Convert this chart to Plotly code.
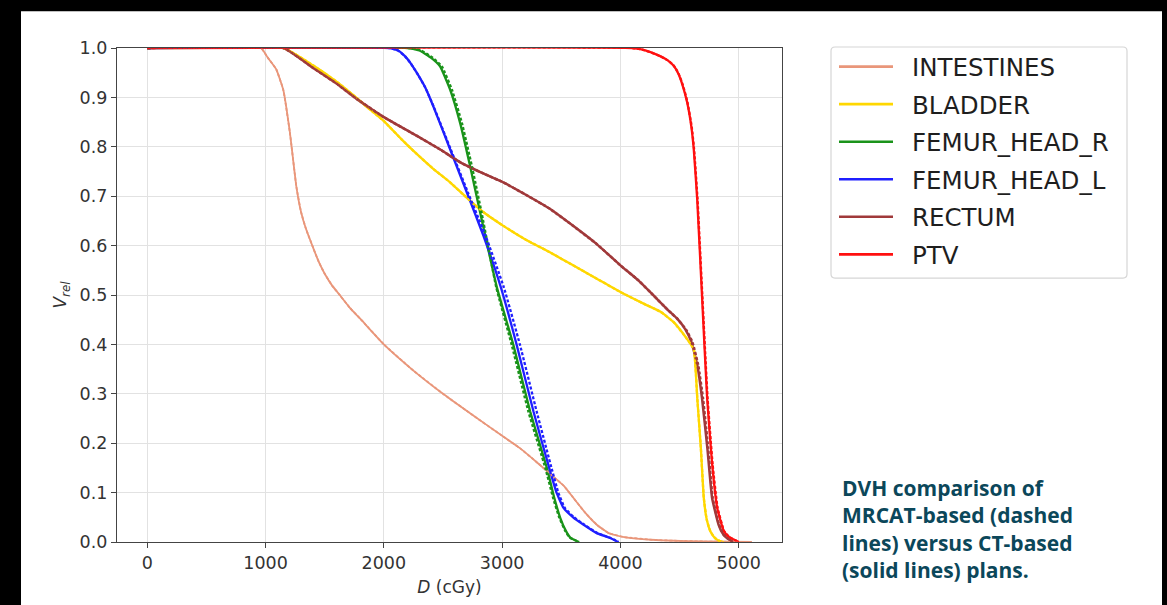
import plotly.graph_objects as go

# ---------------- data ----------------
organs = ["INTESTINES", "BLADDER", "FEMUR_HEAD_R", "FEMUR_HEAD_L", "RECTUM", "PTV"]
colors = ["#E9967A", "#FFD700", "#1a931a", "#1f1fff", "#A0393A", "#FF1010"]
widths = [1.8, 2.3, 2.3, 2.3, 2.5, 2.3]

intestines_d = [0, 960, 1020, 1090, 1150, 1205, 1260, 1300, 1340, 1400, 1450, 1500, 1560, 1630, 1713, 1800,
                2000, 2250, 2500, 2750, 3000, 3150, 3300, 3420, 3520, 3600, 3700, 3800, 3900, 4030, 4300,
                4700, 5110]
intestines_v = [1, 1, 0.98, 0.957, 0.915, 0.83, 0.72, 0.668, 0.635, 0.597, 0.567, 0.543, 0.52, 0.499, 0.474,
                0.452, 0.4, 0.347, 0.3, 0.257, 0.215, 0.19, 0.16, 0.135, 0.114, 0.09, 0.06, 0.035, 0.018,
                0.01, 0.004, 0.001, 0]

bladder_d = [0, 1150, 1400, 1600, 1770, 1850, 2000, 2150, 2280, 2420, 2560, 2700, 2840, 3010, 3200, 3400,
             3600, 3800, 4000, 4200, 4340, 4450, 4560, 4620, 4650, 4680, 4705, 4730, 4760, 4800, 4840, 4870]
bladder_v = [1, 1, 0.965, 0.932, 0.899, 0.882, 0.852, 0.815, 0.785, 0.755, 0.728, 0.697, 0.668, 0.64, 0.612,
             0.587, 0.56, 0.533, 0.506, 0.482, 0.466, 0.445, 0.412, 0.39, 0.29, 0.19, 0.089, 0.045, 0.022,
             0.008, 0.002, 0]

femur_r_d = [0, 2200, 2300, 2400, 2475, 2560, 2644, 2729, 2814, 2955, 3096, 3237, 3378, 3440, 3491, 3540,
             3576, 3650]
femur_r_v = [1, 1, 0.995, 0.98, 0.963, 0.916, 0.849, 0.761, 0.667, 0.516, 0.398, 0.264, 0.15, 0.09, 0.049,
             0.022, 0.009, 0]
femur_r_mr_d = [0, 2215, 2315, 2415, 2490, 2575, 2659, 2744, 2826, 2950, 3082, 3222, 3365, 3430, 3484, 3535,
                3572, 3650]

femur_l_d = [0, 2050, 2120, 2180, 2230, 2278, 2350, 2418, 2560, 2701, 2842, 2990, 3124, 3265, 3406, 3460,
             3519, 3600, 3689, 3800, 3914, 3980]
femur_l_v = [1, 1, 0.995, 0.983, 0.968, 0.95, 0.92, 0.882, 0.795, 0.708, 0.62, 0.515, 0.398, 0.264, 0.143,
             0.1, 0.069, 0.05, 0.035, 0.018, 0.008, 0]
femur_l_mr_d = [0, 2050, 2120, 2180, 2230, 2278, 2350, 2420, 2565, 2710, 2860, 3015, 3152, 3292, 3425, 3475,
                3530, 3608, 3695, 3805, 3918, 3985]

rectum_d = [0, 1150, 1400, 1600, 1770, 2000, 2280, 2480, 2650, 2850, 3010, 3200, 3400, 3600, 3800, 4000,
            4150, 4280, 4400, 4480, 4550, 4600, 4650, 4690, 4735, 4775, 4830, 4870, 4900, 4950]
rectum_v = [1, 1, 0.96, 0.928, 0.897, 0.86, 0.822, 0.794, 0.768, 0.745, 0.728, 0.703, 0.675, 0.64, 0.603,
            0.56, 0.53, 0.499, 0.47, 0.452, 0.43, 0.405, 0.358, 0.291, 0.19, 0.089, 0.035, 0.015, 0.008, 0]
rectum_mr_d = [0, 1150, 1400, 1600, 1770, 2000, 2280, 2480, 2650, 2850, 3010, 3200, 3400, 3600, 3800, 4000,
               4150, 4280, 4400, 4480, 4555, 4608, 4658, 4698, 4742, 4780, 4834, 4872, 4902, 4950]

ptv_d = [0, 4100, 4180, 4260, 4340, 4400, 4450, 4490, 4525, 4564, 4600, 4620, 4649, 4691, 4733, 4776, 4818,
         4874, 4920, 4959, 5000]
ptv_v = [1, 1, 0.997, 0.991, 0.983, 0.975, 0.964, 0.948, 0.925, 0.89, 0.84, 0.795, 0.694, 0.492, 0.291, 0.156,
         0.069, 0.022, 0.01, 0.005, 0]
ptv_mr_d = [0, 4100, 4180, 4260, 4340, 4400, 4452, 4492, 4528, 4567, 4603, 4623, 4652, 4694, 4737, 4780, 4822,
            4877, 4922, 4960, 5000]

x_ticks = [0, 1000, 2000, 3000, 4000, 5000]
y_ticks = [0.0, 0.1, 0.2, 0.3, 0.4, 0.5, 0.6, 0.7, 0.8, 0.9, 1.0]

caption_lines = ["DVH comparison of", "MRCAT-based (dashed", "lines) versus CT-based", "(solid lines) plans."]

ct_curves = [(intestines_d, intestines_v), (bladder_d, bladder_v), (femur_r_d, femur_r_v),
             (femur_l_d, femur_l_v), (rectum_d, rectum_v), (ptv_d, ptv_v)]
mr_curves = [(intestines_d, intestines_v), (bladder_d, bladder_v), (femur_r_mr_d, femur_r_v),
             (femur_l_mr_d, femur_l_v), (rectum_mr_d, rectum_v), (ptv_mr_d, ptv_v)]

# ---------------- figure ----------------
fig = go.Figure()
for i, name in enumerate(organs):
    d, v = ct_curves[i]
    fig.add_trace(go.Scatter(x=d, y=v, mode="lines", name=name, showlegend=False,
                             line=dict(color=colors[i], width=widths[i], shape="spline", smoothing=0.4)))
for i, name in enumerate(organs):
    d, v = mr_curves[i]
    fig.add_trace(go.Scatter(x=d, y=v, mode="lines", name=name + " (MRCAT)", showlegend=False,
                             line=dict(color=colors[i], width=widths[i], dash="3px,2px",
                                       shape="spline", smoothing=0.4)))

W, H = 1167, 605
ml, mr, mt, mb = 117, 385, 48, 61
pw, ph = W - ml - mr, H - mt - mb


def px_x(p):
    return (p - ml) / pw


def px_y(p):
    return (H - mb - p) / ph


# white page inside the black frame
fig.add_shape(type="rect", xref="paper", yref="paper", layer="below",
              x0=px_x(21), x1=px_x(1162), y0=px_y(640), y1=px_y(11),
              fillcolor="white", line=dict(width=0))

# legend box (rounded)
lx0, lx1, ly0, ly1, r = 831, 1127, 47, 279, 4
path = (f"M {px_x(lx0 + r)} {px_y(ly0)} L {px_x(lx1 - r)} {px_y(ly0)} "
        f"Q {px_x(lx1)} {px_y(ly0)} {px_x(lx1)} {px_y(ly0 + r)} "
        f"L {px_x(lx1)} {px_y(ly1 - r)} Q {px_x(lx1)} {px_y(ly1)} {px_x(lx1 - r)} {px_y(ly1)} "
        f"L {px_x(lx0 + r)} {px_y(ly1)} Q {px_x(lx0)} {px_y(ly1)} {px_x(lx0)} {px_y(ly1 - r)} "
        f"L {px_x(lx0)} {px_y(ly0 + r)} Q {px_x(lx0)} {px_y(ly0)} {px_x(lx0 + r)} {px_y(ly0)} Z")
fig.add_shape(type="path", xref="paper", yref="paper", path=path, fillcolor="white",
              line=dict(color="#d6d6d6", width=1.2))
row0, pitch = 66.7, 37.7
for i, name in enumerate(organs):
    yc = row0 + i * pitch
    fig.add_shape(type="line", xref="paper", yref="paper", x0=px_x(839), x1=px_x(893),
                  y0=px_y(yc), y1=px_y(yc), line=dict(color=colors[i], width=2.6))
    fig.add_annotation(xref="paper", yref="paper", x=px_x(910), y=px_y(yc + 1), xanchor="left",
                       yanchor="middle", showarrow=False, text=name,
                       font=dict(family="DejaVu Sans", size=24.5, color="#1e1e1e"))

# caption (one text block)
fig.add_annotation(xref="paper", yref="paper", x=px_x(840), y=px_y(474), xanchor="left",
                   yanchor="top", align="left", showarrow=False,
                   text="<b>" + "<br>".join(caption_lines) + "</b>",
                   font=dict(family="Open Sans", size=21, color="#0b475a"))

axis_common = dict(showline=True, linecolor="#444", linewidth=1.3, mirror=True, ticks="outside",
                   ticklen=5, tickwidth=1.3, tickcolor="#444", showgrid=True, gridcolor="#e2e2e2",
                   gridwidth=1.2, zeroline=False,
                   tickfont=dict(family="DejaVu Sans", size=17.5, color="#333"))

fig.update_xaxes(range=[-256, 5366], tickvals=x_ticks, ticktext=[str(t) for t in x_ticks],
                 title=dict(text="<i>D</i> (cGy)", font=dict(family="DejaVu Sans", size=17, color="#333"),
                            standoff=8), **axis_common)
fig.update_yaxes(range=[0, 1], tickvals=y_ticks, ticktext=[f"{t:.1f}" for t in y_ticks],
                 title=dict(text="<i>V<sub>rel</sub></i>", font=dict(family="DejaVu Sans", size=17, color="#333"),
                            standoff=8), **axis_common)

fig.update_layout(
    width=W, height=H,
    margin=dict(l=ml, r=mr, t=mt, b=mb),
    paper_bgcolor="black", plot_bgcolor="white",
    showlegend=False,
)

fig.write_html("out.html", config={"displayModeBar": False},
               post_script="document.body.style.margin='0';document.body.style.background='black';")
